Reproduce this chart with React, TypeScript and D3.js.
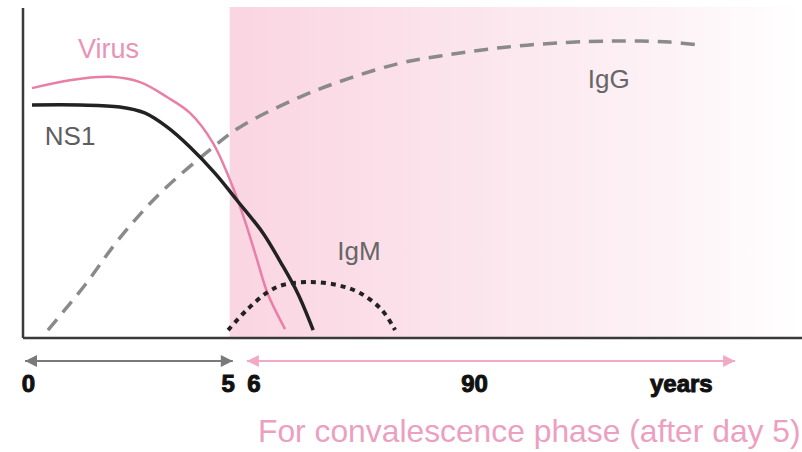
import * as d3 from "d3";

type Pt = [number, number];

// schematic time axis (0..100) and relative level (0..100)
const virus: Pt[] = [
  [1.15, 75.5], [6.0, 77.9], [11.15, 78.9], [15.0, 77.3], [18.46, 72.8],
  [21.4, 68.0], [24.36, 58.9], [26.9, 45.6], [28.7, 33.6], [30.0, 23.7],
  [31.4, 13.2], [33.6, 2.7],
];
const ns1: Pt[] = [
  [1.15, 70.4], [7.3, 70.4], [12.4, 69.8], [15.6, 68.0], [18.5, 63.7],
  [21.4, 57.7], [24.6, 49.8], [27.4, 41.7], [30.8, 31.6], [33.0, 23.0],
  [35.2, 13.6], [37.2, 2.4],
];
const igg: Pt[] = [
  [3.2, 2.4], [7.95, 16.0], [12.2, 29.6], [17.6, 43.8], [24.4, 57.7],
  [27.8, 63.7], [35.5, 72.8], [41.9, 78.5], [48.3, 83.0], [53.5, 85.2],
  [61.2, 87.7], [69.7, 89.3], [75.3, 89.7], [79.1, 89.7], [82.9, 89.4],
  [86.8, 88.5],
];
const igm: Pt[] = [
  [26.3, 2.4], [28.7, 8.5], [31.4, 13.9], [33.3, 16.0], [36.8, 16.9],
  [40.3, 16.0], [43.2, 13.6], [46.0, 8.5], [47.7, 2.4],
];

const tickLabels = ["0", "5", "6", "90", "years"];
const tickValues = [0.7, 26.3, 29.6, 57.9, 84.4];

const acutePhase: [number, number] = [0.26, 26.9];
const convalescentPhase: [number, number] = [28.7, 91.3];
const shadeStart = 26.5;

const W = 802;
const H = 452;

export default function App() {
  const x = d3.scaleLinear().domain([0, 100]).range([23, 803]);
  const y = d3.scaleLinear().domain([0, 100]).range([338, 7]);

  const line = d3
    .line<Pt>()
    .curve(d3.curveCatmullRom.alpha(0.5))
    .x((d) => x(d[0]))
    .y((d) => y(d[1]));

  const font = "'Liberation Sans', Arial, Helvetica, sans-serif";
  const arrowY = 361;

  return (
    <svg
      width={W}
      height={H}
      style={{ position: "absolute", left: 0, top: 0, background: "#fff" }}
    >
      <defs>
        <linearGradient id="shade" x1="0" x2="1" y1="0" y2="0">
          <stop offset="0%" stopColor="#fad5e2" />
          <stop offset="35%" stopColor="#fbe2eb" />
          <stop offset="75%" stopColor="#fdf2f6" />
          <stop offset="100%" stopColor="#ffffff" />
        </linearGradient>
        <marker id="grayHead" viewBox="0 0 10 10" refX="10" refY="5"
          markerWidth="8" markerHeight="6" orient="auto-start-reverse"
          markerUnits="strokeWidth">
          <path d="M0,0 L10,5 L0,10 z" fill="#7a7a7a" />
        </marker>
        <marker id="pinkHead" viewBox="0 0 10 10" refX="10" refY="5"
          markerWidth="8" markerHeight="6" orient="auto-start-reverse"
          markerUnits="strokeWidth">
          <path d="M0,0 L10,5 L0,10 z" fill="#f2a9c6" />
        </marker>
      </defs>

      {/* convalescence shading */}
      <rect
        x={x(shadeStart)}
        y={y(100)}
        width={W - x(shadeStart)}
        height={y(0) - y(100)}
        fill="url(#shade)"
      />

      {/* curves */}
      <path d={line(igg) ?? ""} fill="none" stroke="#8a8a8a" strokeWidth={3.5}
        strokeDasharray="14 9" />
      <path d={line(virus) ?? ""} fill="none" stroke="#e97fa6" strokeWidth={2.5} />
      <path d={line(ns1) ?? ""} fill="none" stroke="#222" strokeWidth={3.5} />
      <path d={line(igm) ?? ""} fill="none" stroke="#222" strokeWidth={4}
        strokeDasharray="5 5" />

      {/* axes */}
      <line x1={x(0)} x2={x(0)} y1={y(0)} y2={8} stroke="#3a3a3a" strokeWidth={2.5} />
      <line x1={x(0)} x2={W} y1={y(0)} y2={y(0)} stroke="#3a3a3a" strokeWidth={2.5} />

      {/* phase arrows */}
      <line x1={x(acutePhase[0])} x2={x(acutePhase[1])} y1={arrowY} y2={arrowY}
        stroke="#7a7a7a" strokeWidth={2}
        markerStart="url(#grayHead)" markerEnd="url(#grayHead)" />
      <line x1={x(convalescentPhase[0])} x2={x(convalescentPhase[1])} y1={arrowY} y2={arrowY}
        stroke="#f2a9c6" strokeWidth={2}
        markerStart="url(#pinkHead)" markerEnd="url(#pinkHead)" />

      {/* tick labels */}
      {tickLabels.map((t, i) => (
        <text key={t} x={x(tickValues[i])} y={392} textAnchor="middle"
          fontFamily={font} fontWeight="bold" fontSize={24} fill="#111"
          stroke="#111" strokeWidth={1}>
          {t}
        </text>
      ))}

      {/* series labels */}
      <text x={x(7.05)} y={y(84.6)} fontFamily={font} fontSize={27} fill="#e994b6">Virus</text>
      <text x={x(2.8)} y={y(58.3)} fontFamily={font} fontSize={26} fill="#5e5e5e">NS1</text>
      <text x={x(72.4)} y={y(75.5)} fontFamily={font} fontSize={26} fill="#666">IgG</text>
      <text x={x(40.3)} y={y(23.6)} fontFamily={font} fontSize={26} fill="#666">IgM</text>

      <text x={258} y={442} fontFamily={font} fontSize={31.8} fill="#eca0c1">
        For convalescence phase (after day 5)
      </text>
    </svg>
  );
}
